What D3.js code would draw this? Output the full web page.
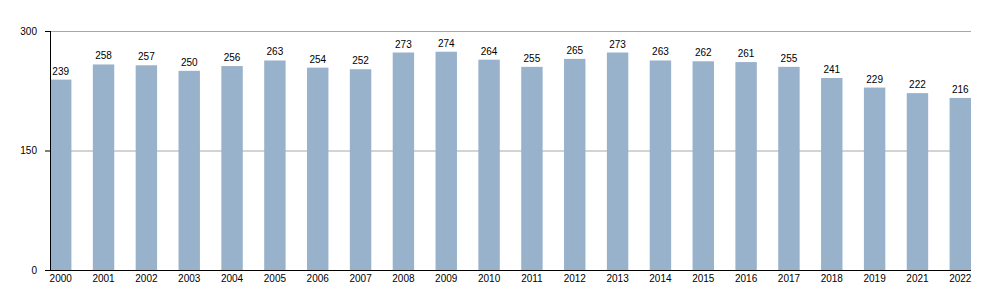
<!DOCTYPE html>
<html>
<head>
<meta charset="utf-8">
<script src="https://cdn.jsdelivr.net/npm/d3@7"></script>
<style>
  body { margin: 0; background: #fff; }
  text { font-family: "Liberation Sans", Arial, sans-serif; font-size: 10px; fill: #000; }
</style>
</head>
<body>
<svg id="chart" width="1000" height="300"></svg>
<script>
// data (no 2020 column in the original)
const years = ["2000", "2001", "2002", "2003", "2004", "2005", "2006", "2007", "2008", "2009", "2010",
  "2011", "2012", "2013", "2014", "2015", "2016", "2017", "2018", "2019", "2021", "2022"];
const values = [239, 258, 257, 250, 256, 263, 254, 252, 273, 274, 264,
  255, 265, 273, 263, 262, 261, 255, 241, 229, 222, 216];
const yTicks = [0, 150, 300];

const margin = { top: 31, right: 29, bottom: 30, left: 50 };
const width = 1000 - margin.left - margin.right;
const height = 300 - margin.top - margin.bottom;

const svg = d3.select("#chart");
const g = svg.append("g").attr("transform", `translate(${margin.left},${margin.top})`);

const x = d3.scaleBand().domain(years).range([0, width]).paddingInner(0.5).paddingOuter(0);
const y = d3.scaleLinear().domain([0, 300]).range([height, 0]);

// gridlines
g.selectAll(".grid")
  .data(yTicks.filter((d) => d > 0))
  .enter()
  .append("line")
  .attr("x1", 0)
  .attr("x2", width)
  .attr("y1", (d) => y(d) + 0.5)
  .attr("y2", (d) => y(d) + 0.5)
  .attr("stroke", "#a8a8a8")
  .attr("stroke-width", 1);

// bars
g.selectAll(".bar")
  .data(values)
  .enter()
  .append("rect")
  .attr("x", (d, i) => x(years[i]))
  .attr("y", (d) => y(d))
  .attr("width", x.bandwidth())
  .attr("height", (d) => height - y(d))
  .attr("fill", "#98b2cc");

// value labels
g.selectAll(".val")
  .data(values)
  .enter()
  .append("text")
  .attr("x", (d, i) => x(years[i]) + x.bandwidth() / 2)
  .attr("y", (d) => y(d) - 5)
  .attr("text-anchor", "middle")
  .text((d) => d);

// axes
const yAxis = d3.axisLeft(y).tickValues(yTicks).tickSize(5).tickPadding(8);
const xAxis = d3.axisBottom(x).tickSize(0).tickPadding(5);

const ya = g.append("g").call(yAxis);
ya.select(".domain").attr("d", `M0.5,0V${height}`).attr("stroke", "#000");
ya.selectAll(".tick line").attr("stroke", "#000");
ya.selectAll("text").style("font-size", "10px");

const xa = g.append("g").attr("transform", `translate(0,${height})`).call(xAxis);
xa.select(".domain").attr("d", `M-5,0.5H${width}`).attr("stroke", "#000");
xa.selectAll("text").style("font-size", "10px");
</script>
</body>
</html>
